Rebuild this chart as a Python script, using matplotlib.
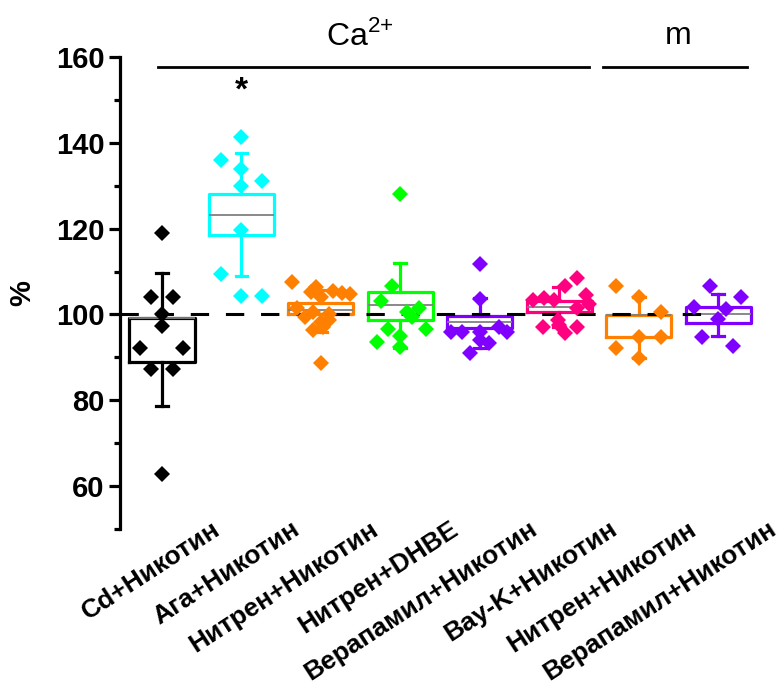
import matplotlib
matplotlib.use('Agg')
import matplotlib.pyplot as plt
import matplotlib.transforms as mtransforms

plt.rcParams['font.family'] = ['Liberation Sans', 'DejaVu Sans']

# groups
labels = ['Cd+Никотин', 'Aга+Никотин', 'Нитрен+Никотин', 'Нитрен+DHBE',
          'Верапамил+Никотин', 'Bay-K+Никотин', 'Нитрен+Никотин', 'Верапамил+Никотин']
colors = ['#000000', '#00FFFF', '#FF8000', '#00FF00',
          '#8000FF', '#FF0080', '#FF8000', '#8000FF']

# box statistics (%)
q1 = [88.9, 118.5, 100.0, 98.7, 96.9, 100.6, 94.7, 98.1]
q3 = [99.1, 128.0, 102.7, 105.2, 99.7, 103.2, 99.9, 101.8]
med = [99.1, 123.2, 101.0, 102.2, 98.2, 101.7, 99.9, 100.0]
whislo = [78.6, 109.0, 96.0, 92.1, 92.1, 97.0, 89.8, 95.0]
whishi = [109.7, 137.6, 105.7, 111.9, 103.8, 106.3, 104.1, 104.8]

# individual points (%)
pts_cd = [119.1, 104.1, 104.1, 100.0, 97.3, 92.1, 92.1, 87.3, 87.3, 62.8]
pts_aga = [141.4, 136.0, 133.8, 131.1, 129.9, 119.7, 109.4, 104.3, 104.3]
pts_nitren = [107.6, 106.5, 105.5, 105.2, 105.1, 104.8, 104.0, 101.5, 100.6,
              100.2, 99.5, 98.7, 98.2, 97.2, 96.4, 88.6]
pts_dhbe = [128.0, 106.6, 103.2, 101.6, 100.6, 99.5, 96.6, 96.6, 95.1, 93.7, 92.5]
pts_verap = [111.7, 103.5, 97.2, 96.0, 96.0, 96.0, 96.0, 94.0, 93.3, 91.1]
pts_bayk = [108.5, 106.7, 104.5, 103.8, 103.4, 103.4, 102.5, 101.5, 98.7,
            97.6, 97.2, 97.2, 95.6]
pts_nitren_m = [106.6, 104.1, 100.6, 94.7, 94.7, 92.1, 89.8]
pts_verap_m = [106.6, 104.1, 101.8, 101.2, 98.9, 94.8, 92.6]
points = [pts_cd, pts_aga, pts_nitren, pts_dhbe, pts_verap, pts_bayk,
          pts_nitren_m, pts_verap_m]

# horizontal spread of the points (category units)
jit = [
    [0, -0.14, 0.14, 0, 0, -0.28, 0.26, -0.14, 0.14, 0],
    [0, -0.26, 0, 0.26, 0, 0, -0.26, 0, 0.26],
    [-0.36, -0.06, 0.15, -0.13, 0.27, 0.36, 0.0, -0.3, -0.1, 0.1, -0.2, 0.1,
     0.0, 0.02, -0.1, 0.0],
    [0.0, -0.1, -0.24, 0.23, 0.08, 0.15, -0.16, 0.32, 0.0, -0.3, 0.0],
    [0, 0, 0.24, -0.36, -0.23, 0.34, 0.0, 0.0, 0.12, -0.12],
    [0.22, 0.07, 0.34, -0.19, -0.33, -0.06, 0.38, 0.22, -0.02, 0.0, -0.2, 0.22, 0.07],
    [-0.28, 0, 0.28, 0, 0.28, -0.28, 0],
    [-0.1, 0.29, -0.3, 0.1, 0, -0.2, 0.19],
]

stats = []
for i in range(len(labels)):
    stats.append({'q1': q1[i], 'q3': q3[i], 'med': med[i],
                  'whislo': whislo[i], 'whishi': whishi[i], 'fliers': []})

fig = plt.figure(figsize=(7.79, 6.90), dpi=100)
ax = fig.add_axes([0.154, 0.2333, 0.829, 0.684])

for i, st in enumerate(stats):
    c = colors[i]
    ax.bxp([st], positions=[i], widths=0.82, showfliers=False, capwidths=0.15,
           boxprops=dict(color=c, linewidth=2.3),
           whiskerprops=dict(color=c, linewidth=2.3),
           capprops=dict(color=c, linewidth=2.3),
           medianprops=dict(color='#808080', linewidth=1.3),
           zorder=2)
    xs = [i + j for j in jit[i]]
    ax.plot(xs, points[i], 'D', color=c, markersize=8.5, markeredgewidth=0, zorder=4)

# reference line at 100 %
ax.plot([-0.53, 6.8], [100, 100], color='black', lw=2.2, dashes=(6, 5.5), zorder=3)

# group brackets
ax.plot([-0.05, 5.38], [157.6, 157.6], color='black', lw=2, clip_on=False)
ax.plot([5.55, 7.37], [157.6, 157.6], color='black', lw=2, clip_on=False)
ax.text(2.49, 165.0, r'Ca$^{\mathregular{2{+}}}$', fontsize=23, ha='center', va='center')
ax.text(6.5, 164.8, 'm', fontsize=23, ha='center', va='center')
ax.text(1.0, 152.0, '*', fontsize=24, fontweight='bold', ha='center', va='center')

ax.set_xlim(-0.53, 7.6)
ax.set_ylim(50, 160)
ax.set_yticks([60, 80, 100, 120, 140, 160])
ax.set_yticks([50, 70, 90, 110, 130, 150], minor=True)
ax.tick_params(axis='y', which='major', length=8, width=2.3, labelsize=21, pad=3)
ax.tick_params(axis='y', which='minor', length=4, width=2.3)
for t in ax.get_yticklabels():
    t.set_fontweight('bold')
ax.set_ylabel('%', fontsize=21, fontweight='bold', labelpad=14)

ax.set_xticks(range(len(labels)))
ax.set_xticklabels(labels, rotation=33, ha='right', rotation_mode='anchor',
                   fontsize=19, fontweight='bold')
ax.tick_params(axis='x', length=0, pad=0)
offset = mtransforms.ScaledTranslation(0.49, 0.12, fig.dpi_scale_trans)
for t in ax.get_xticklabels():
    t.set_transform(t.get_transform() + offset)

for s in ['top', 'right', 'bottom']:
    ax.spines[s].set_visible(False)
ax.spines['left'].set_linewidth(2.3)

fig.savefig('out.png', dpi=100)
